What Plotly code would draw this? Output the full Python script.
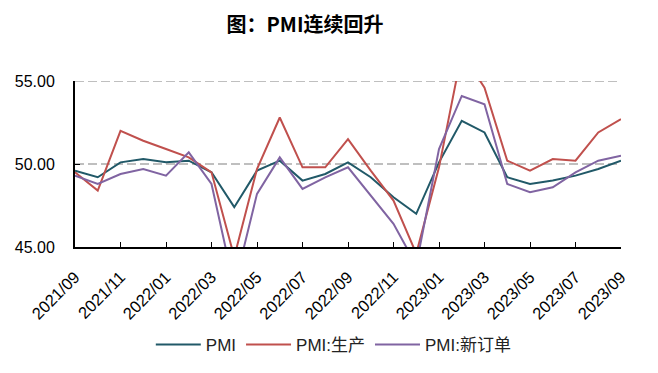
import plotly.graph_objects as go

months = ["2021/09","2021/10","2021/11","2021/12","2022/01","2022/02","2022/03","2022/04",
          "2022/05","2022/06","2022/07","2022/08","2022/09","2022/10","2022/11","2022/12",
          "2023/01","2023/02","2023/03","2023/04","2023/05","2023/06","2023/07","2023/08","2023/09"]
pmi = [49.6,49.2,50.1,50.3,50.1,50.2,49.5,47.4,49.6,50.2,49.0,49.4,50.1,49.2,48.0,47.0,
       50.1,52.6,51.9,49.2,48.8,49.0,49.3,49.7,50.2]
production = [49.5,48.4,52.0,51.4,50.9,50.4,49.5,44.4,49.7,52.8,49.8,49.8,51.5,49.6,47.8,44.6,
              49.8,56.7,54.6,50.2,49.6,50.3,50.2,51.9,52.7]
new_orders = [49.3,48.8,49.4,49.7,49.3,50.7,48.8,42.6,48.2,50.4,48.5,49.2,49.8,48.1,46.4,43.9,
              50.9,54.1,53.6,48.8,48.3,48.6,49.5,50.2,50.5]
series_names = ["PMI", "PMI:生产", "PMI:新订单"]
colors = ["#215968", "#C0504D", "#8064A2"]
tick_labels = months[::2]
y_ticks = [45, 50, 55]

grid_color = "#BFBFBF"
grid_dash = "9px,4px"

fig = go.Figure()
for name, vals, c in zip(series_names, [pmi, production, new_orders], colors):
    fig.add_trace(go.Scatter(x=months, y=vals, name=name, mode="lines",
                             line=dict(color=c, width=2)))

# dashed gridline at the top tick (plotly drops gridlines on the plot edge)
fig.add_shape(type="line", xref="paper", x0=0, x1=1, yref="y", y0=y_ticks[-1], y1=y_ticks[-1],
              line=dict(color=grid_color, width=2, dash=grid_dash), layer="below")

font_fam = "Liberation Sans, Arial, Noto Sans CJK SC"
fig.update_layout(
    width=658, height=373,
    margin=dict(l=75, r=37, t=81, b=125),
    plot_bgcolor="white", paper_bgcolor="white",
    font=dict(family=font_fam, size=14, color="#000000"),
    title=dict(text="<b>图：PMI连续回升</b>", x=305/658, xanchor="center", y=1-25/373, yanchor="middle",
               font=dict(family="Noto Sans CJK SC", size=20, color="#000000")),
    showlegend=True,
    legend=dict(orientation="h", x=0.474, xanchor="center", y=-0.58, yanchor="middle",
                font=dict(family=font_fam, size=17, color="#222222"), itemwidth=45,
                traceorder="normal"),
)
fig.update_xaxes(type="category", range=[0, 24], tickmode="array", tickvals=tick_labels,
                 ticktext=tick_labels, tickangle=-45, ticks="inside", ticklen=5, tickcolor="black",
                 showline=True, linecolor="black", linewidth=2, showgrid=False,
                 tickfont=dict(size=16.5), ticklabelstandoff=12)
fig.update_yaxes(range=[45, 55], tickvals=y_ticks, tickformat=".2f", ticks="inside", ticklen=5,
                 tickcolor="black", showline=True, linecolor="black", linewidth=2,
                 showgrid=True, gridcolor=grid_color, griddash=grid_dash, gridwidth=2,
                 zeroline=False, tickfont=dict(size=16), ticklabelstandoff=15)
fig.write_html("out.html")
